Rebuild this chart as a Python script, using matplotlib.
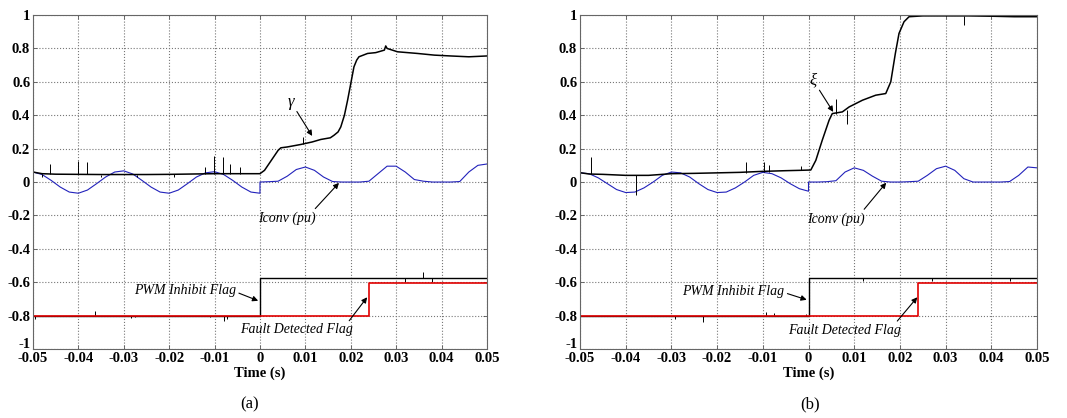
import numpy as np
import matplotlib.pyplot as plt
import matplotlib.transforms as mtransforms

plt.rcParams['font.family'] = ['Liberation Serif', 'DejaVu Serif']

# ---------------- panel (a) ----------------
gamma_t = [-0.05, -0.048, -0.045, -0.04, -0.035, -0.03, -0.025, -0.02, -0.015, -0.01, -0.005,
           -0.001, 0.0, 0.001, 0.002, 0.003, 0.004, 0.0046, 0.006, 0.009, 0.0115, 0.0134, 0.0155,
           0.0163, 0.0172, 0.0178, 0.0186, 0.0193, 0.02, 0.0207, 0.0213, 0.0218, 0.0237, 0.0255,
           0.0274, 0.0277, 0.028, 0.0303, 0.0347, 0.0384, 0.042, 0.046, 0.05]
gamma = [0.06, 0.05, 0.047, 0.046, 0.045, 0.045, 0.045, 0.046, 0.048, 0.05, 0.05,
         0.05, 0.05, 0.07, 0.11, 0.15, 0.19, 0.205, 0.21, 0.225, 0.24, 0.255, 0.265,
         0.28, 0.3, 0.33, 0.4, 0.49, 0.59, 0.69, 0.73, 0.75, 0.77, 0.775,
         0.79, 0.815, 0.8, 0.78, 0.77, 0.76, 0.755, 0.75, 0.755]
# spikes on gamma: time, low, high
gamma_spk_t = [-0.0462, -0.0400, -0.0381, -0.0122, -0.0102, -0.0082, -0.0066, -0.0044, 0.0094,
               -0.048, -0.035, -0.027, -0.019]
gamma_spk_lo = [0.047, 0.046, 0.046, 0.048, 0.05, 0.05, 0.05, 0.05, 0.225,
                0.03, 0.03, 0.032, 0.03]
gamma_spk_hi = [0.106, 0.125, 0.12, 0.09, 0.155, 0.15, 0.11, 0.09, 0.27,
                0.05, 0.045, 0.045, 0.046]

t_grid = [-0.05, -0.048, -0.046, -0.044, -0.042, -0.04, -0.038, -0.036, -0.034, -0.032, -0.03,
          -0.028, -0.026, -0.024, -0.022, -0.02, -0.018, -0.016, -0.014, -0.012, -0.01,
          -0.008, -0.006, -0.004, -0.002, 0.0, 0.0, 0.002, 0.004, 0.006, 0.008, 0.01,
          0.012, 0.014, 0.016, 0.018, 0.02, 0.022, 0.024, 0.026, 0.028, 0.03,
          0.032, 0.034, 0.036, 0.038, 0.04, 0.042, 0.044, 0.046, 0.048, 0.05]
iconv_a = [0.06, 0.045, 0.01, -0.03, -0.06, -0.067, -0.048, -0.01, 0.03, 0.06, 0.067,
           0.048, 0.01, -0.03, -0.06, -0.067, -0.048, -0.01, 0.03, 0.055, 0.062,
           0.045, 0.01, -0.03, -0.06, -0.067, 0.0, 0.002, 0.005, 0.035, 0.075, 0.09,
           0.07, 0.03, 0.003, 0.0, 0.0, 0.0, 0.005, 0.05, 0.095, 0.095,
           0.06, 0.015, 0.005, 0.0, 0.0, 0.0, 0.003, 0.06, 0.1, 0.108]

# ---------------- panel (b) ----------------
xi_t = [-0.05, -0.048, -0.045, -0.04, -0.035, -0.03, -0.025, -0.02, -0.015, -0.01, -0.005,
        -0.002, 0.0005, 0.0016, 0.003, 0.0045, 0.0052, 0.0074, 0.0089, 0.0118, 0.0147,
        0.0169, 0.018, 0.019, 0.0198, 0.0209, 0.022, 0.025, 0.03, 0.035, 0.04, 0.045, 0.05]
xi = [0.056, 0.048, 0.046, 0.04, 0.04, 0.05, 0.052, 0.055, 0.058, 0.064, 0.068,
      0.07, 0.072, 0.13, 0.25, 0.37, 0.41, 0.42, 0.45, 0.49, 0.52,
      0.53, 0.6, 0.77, 0.89, 0.96, 0.99, 0.995, 0.995, 0.995, 0.993, 0.99, 0.99]
xi_spk_t = [-0.0476, -0.0377, -0.0137, -0.0097, -0.0086, -0.0017, 0.006, 0.0085, 0.034]
xi_spk_lo = [0.05, -0.08, 0.056, 0.062, 0.063, 0.07, 0.41, 0.35, 0.94]
xi_spk_hi = [0.15, 0.04, 0.12, 0.12, 0.10, 0.096, 0.50, 0.43, 0.995]

iconv_b = [0.055, 0.05, 0.025, -0.01, -0.045, -0.063, -0.06, -0.035, 0.0, 0.04, 0.06,
           0.055, 0.03, -0.01, -0.045, -0.063, -0.06, -0.035, 0.0, 0.04, 0.058,
           0.05, 0.025, -0.01, -0.04, -0.055, 0.0, 0.0, 0.002, 0.008, 0.06, 0.085,
           0.07, 0.035, 0.005, 0.0, 0.0, 0.002, 0.005, 0.04, 0.08, 0.095,
           0.07, 0.02, 0.0, 0.0, 0.0, 0.0, 0.003, 0.04, 0.09, 0.085]

# ---------------- flags (same levels in both panels) ----------------
pwm_t = [-0.05, 0.0, 0.0, 0.05]
pwm = [-0.8, -0.8, -0.575, -0.575]
fault_t = [-0.05, 0.024, 0.024, 0.05]
fault = [-0.8, -0.8, -0.603, -0.603]

pwm_spk_a_t = [-0.0496, -0.0364, -0.0283, -0.0276, -0.0109, -0.0079, -0.0072, 0.032, 0.036, 0.038]
pwm_spk_a_lo = [-0.82, -0.8, -0.815, -0.81, -0.81, -0.835, -0.82, -0.6, -0.575, -0.6]
pwm_spk_a_hi = [-0.8, -0.775, -0.8, -0.8, -0.8, -0.8, -0.8, -0.575, -0.54, -0.575]
pwm_spk_b_t = [-0.0293, -0.0231, -0.0093, -0.0075, -0.0006, 0.012, 0.027, 0.044]
pwm_spk_b_lo = [-0.82, -0.84, -0.8, -0.8, -0.8, -0.59, -0.59, -0.595]
pwm_spk_b_hi = [-0.8, -0.8, -0.78, -0.785, -0.79, -0.575, -0.575, -0.575]

xticks = [-0.05, -0.04, -0.03, -0.02, -0.01, 0.0, 0.01, 0.02, 0.03, 0.04, 0.05]
xlabels = ['-0.05', '-0.04', '-0.03', '-0.02', '-0.01', '0', '0.01', '0.02', '0.03', '0.04', '0.05']
yticks = [-1, -0.8, -0.6, -0.4, -0.2, 0, 0.2, 0.4, 0.6, 0.8, 1]
ylabels = ['-1', '-0.8', '-0.6', '-0.4', '-0.2', '0', '0.2', '0.4', '0.6', '0.8', '1']

fig = plt.figure(figsize=(10.67, 4.18), dpi=100)
ax_a = fig.add_axes([0.0309, 0.165, 0.4255, 0.799])
ax_b = fig.add_axes([0.5436, 0.165, 0.4283, 0.799])

arrow = dict(arrowstyle='-|>', color='k', lw=0.8, mutation_scale=8, shrinkA=0, shrinkB=0)
note = dict(fontsize=10, style='italic', ha='center', va='center')


def setup(ax):
    ax.set_xlim(-0.05, 0.05)
    ax.set_ylim(-1, 1)
    ax.set_xticks(xticks)
    ax.set_xticklabels(xlabels, fontsize=10.5, fontweight='bold')
    ax.set_yticks(yticks)
    ax.set_yticklabels(ylabels, fontsize=10.5, fontweight='bold')
    ax.tick_params(direction='in', length=3, width=0.6, color='#555555',
                   top=True, right=True, pad=2)
    # lift the bottom y label a little so it sits above the first x label
    lbl = ax.get_yticklabels()[0]
    lbl.set_transform(lbl.get_transform() +
                      mtransforms.ScaledTranslation(0, 4 / 72, fig.dpi_scale_trans))
    ax.grid(True, linestyle=':', color='#777777', linewidth=0.8)
    for s in ax.spines.values():
        s.set_color('#666666')
        s.set_linewidth(0.8)
    ax.set_xlabel('Time (s)', fontsize=10.5, fontweight='bold', labelpad=1)


def flags(ax, st, slo, shi):
    ax.plot(pwm_t, pwm, color='black', lw=1.0)
    ax.vlines(st, slo, shi, color='black', lw=0.7)
    ax.plot(fault_t, fault, color='#e00000', lw=1.2)


# panel (a)
setup(ax_a)
ax_a.plot(t_grid, iconv_a, color='#2222bb', lw=0.8)
ax_a.plot(gamma_t, gamma, color='black', lw=1.1)
ax_a.vlines(gamma_spk_t, gamma_spk_lo, gamma_spk_hi, color='black', lw=0.7)
flags(ax_a, pwm_spk_a_t, pwm_spk_a_lo, pwm_spk_a_hi)
ax_a.annotate('γ', xy=(0.0115, 0.276), xytext=(0.0068, 0.48), arrowprops=arrow,
              fontsize=12, style='italic', ha='center', va='center')
ax_a.annotate('Iconv (pu)', xy=(0.0174, -0.005), xytext=(0.0059, -0.216),
              arrowprops=dict(arrow, relpos=(0.95, 1.0)), **note)
ax_a.annotate('PWM Inhibit Flag', xy=(-0.0004, -0.711), xytext=(-0.0165, -0.651),
              arrowprops=dict(arrow, relpos=(1.0, 0.4)), **note)
ax_a.annotate('Fault Detected Flag', xy=(0.0236, -0.69), xytext=(0.008, -0.886),
              arrowprops=dict(arrow, relpos=(0.95, 1.0)), **note)

# panel (b)
setup(ax_b)
ax_b.plot(t_grid, iconv_b, color='#2222bb', lw=0.8)
ax_b.plot(xi_t, xi, color='black', lw=1.1)
ax_b.vlines(xi_spk_t, xi_spk_lo, xi_spk_hi, color='black', lw=0.7)
flags(ax_b, pwm_spk_b_t, pwm_spk_b_lo, pwm_spk_b_hi)
ax_b.annotate('ξ', xy=(0.0054, 0.42), xytext=(0.001, 0.61), arrowprops=arrow,
              fontsize=12, style='italic', ha='center', va='center')
ax_b.annotate('Iconv (pu)', xy=(0.017, -0.004), xytext=(0.006, -0.22),
              arrowprops=dict(arrow, relpos=(0.95, 1.0)), **note)
ax_b.annotate('PWM Inhibit Flag', xy=(-0.0004, -0.705), xytext=(-0.0164, -0.655),
              arrowprops=dict(arrow, relpos=(1.0, 0.4)), **note)
ax_b.annotate('Fault Detected Flag', xy=(0.0238, -0.69), xytext=(0.0078, -0.888),
              arrowprops=dict(arrow, relpos=(0.95, 1.0)), **note)

fig.text(0.234, 0.033, '(a)', fontsize=12, ha='center', va='center')
fig.text(0.759, 0.033, '(b)', fontsize=12, ha='center', va='center')

fig.savefig('out.png', dpi=100)
